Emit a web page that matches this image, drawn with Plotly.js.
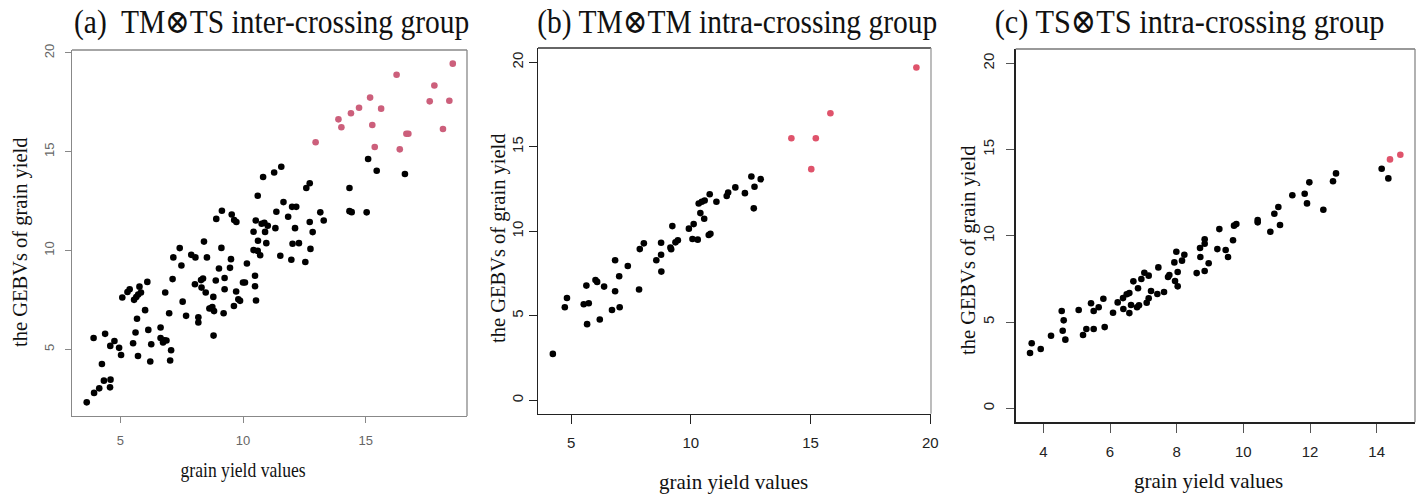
<!DOCTYPE html>
<html>
<head>
<meta charset="utf-8">
<script src="https://cdn.plot.ly/plotly-3.0.1.min.js"></script>
<style>html,body{margin:0;padding:0;background:#fff;}#chart{width:1426px;height:498px;}</style>
</head>
<body>
<div id="chart"></div>
<script>
// ---------- data ----------
const titles = ["(a)  TM\u2297TS inter-crossing group", "(b) TM\u2297TM intra-crossing group", "(c) TS\u2297TS intra-crossing group"];
const xTitle = "grain yield values";
const yTitle = "the GEBVs of grain yield";

// (a) TM x TS inter-crossing group
const aBlackX = [15.10,15.45,16.60,14.34,14.34,14.43,15.04,11.56,11.27,10.82,12.72,12.58,11.65,12.00,12.17,11.36,11.84,13.15,13.29,12.72,10.90,11.32,12.12,12.84,10.61,10.95,12.02,12.28,12.75,10.70,11.52,11.97,12.54,10.60,9.14,8.91,9.54,9.64,9.73,10.52,10.76,10.87,11.01,10.43,8.41,7.42,7.16,7.89,8.06,8.53,9.12,9.51,7.49,9.02,9.47,10.16,10.49,9.25,8.89,8.29,8.37,8.04,7.13,6.10,5.78,5.38,10.00,10.08,10.49,8.31,10.43,10.60,5.08,5.29,5.56,5.65,5.73,5.84,6.83,7.54,6.01,5.68,6.99,7.68,8.18,8.18,8.48,8.79,9.25,9.72,8.63,8.70,8.75,8.82,9.21,9.63,9.81,9.88,10.53,8.80,3.91,4.38,4.76,4.59,4.95,5.03,5.52,5.62,6.14,6.64,6.64,6.74,6.80,6.88,6.26,5.72,6.22,7.07,7.03,4.25,4.33,4.60,4.58,4.14,3.93,3.63];
const aBlackY = [14.63,14.04,13.87,13.16,11.99,11.94,11.93,14.24,13.95,13.72,13.40,13.16,12.45,12.21,12.21,11.96,11.71,11.93,11.52,11.44,10.94,11.13,11.13,10.93,10.49,10.37,10.34,10.37,10.08,9.76,9.73,9.53,9.42,12.77,12.01,11.60,11.82,11.54,11.44,11.52,11.35,11.40,11.25,10.95,10.45,10.12,9.65,9.78,9.65,9.65,10.13,9.56,9.24,9.09,9.12,9.34,8.72,8.61,8.48,8.50,8.58,8.29,8.55,8.41,8.17,8.04,8.38,8.38,8.19,8.12,10.02,9.98,7.62,7.90,7.50,7.64,7.77,7.87,7.87,7.41,6.98,6.54,6.82,6.69,6.62,6.35,7.87,7.65,8.04,7.92,7.06,7.08,7.14,6.93,6.82,7.19,7.53,7.45,7.47,5.69,5.57,5.78,5.42,5.17,5.07,4.71,5.30,5.85,5.98,6.10,5.57,5.34,5.45,5.44,5.25,4.66,4.38,4.95,4.43,4.25,3.41,3.46,3.07,3.02,2.79,2.31];
const aRedX = [12.96,13.89,14.01,14.40,14.73,15.18,15.27,15.63,15.37,16.26,16.39,16.66,16.74,17.61,17.80,18.15,18.41,18.55];
const aRedY = [15.48,16.64,16.24,16.95,17.23,17.74,16.35,17.18,15.24,18.90,15.12,15.91,15.91,17.55,18.35,16.15,17.58,19.46];

// (b) TM x TM intra-crossing group
const bBlackX = [12.53,12.92,12.66,12.26,11.86,11.56,11.50,12.63,11.07,10.79,10.58,10.46,10.33,10.40,10.56,10.12,9.92,9.23,10.07,10.29,10.75,10.82,9.46,9.36,8.76,9.15,9.18,8.04,7.87,8.76,8.56,6.84,8.77,7.37,7.01,6.84,7.84,6.02,6.09,6.38,5.64,4.83,4.74,5.53,5.74,6.71,7.03,5.67,6.20,4.24];
const bBlackY = [13.25,13.09,12.64,12.26,12.60,12.30,12.09,11.36,11.75,12.20,11.83,11.75,11.65,11.08,10.75,10.43,10.16,10.31,9.55,9.51,9.78,9.86,9.47,9.35,9.33,9.04,8.94,9.29,8.95,8.62,8.29,8.29,7.62,7.95,7.34,6.46,6.56,7.12,7.01,6.73,6.79,6.06,5.51,5.69,5.75,5.35,5.51,4.51,4.78,2.75];
const bRedX = [19.42,15.83,14.20,15.22,15.03];
const bRedY = [19.70,16.99,15.51,15.51,13.68];

// (c) TS x TS intra-crossing group
const cBlackX = [14.15,14.35,12.78,12.69,12.40,11.98,11.84,11.91,11.47,11.05,10.93,11.10,10.81,10.43,10.43,9.79,9.72,9.28,9.69,8.84,8.84,8.70,9.22,9.47,7.99,8.23,8.71,9.54,8.16,7.93,8.96,8.84,8.60,8.03,7.95,8.03,7.78,7.74,7.45,7.62,7.42,7.03,7.16,6.94,6.70,6.84,7.23,7.16,7.10,6.58,6.50,6.39,6.23,6.63,6.40,6.58,6.87,6.81,6.09,5.80,5.66,5.43,5.51,5.06,5.84,5.51,5.29,5.19,4.55,4.61,4.58,4.66,4.23,3.92,3.65,3.60];
const cBlackY = [13.89,13.33,13.62,13.16,11.51,13.10,12.44,11.88,12.35,11.67,11.28,10.63,10.24,10.92,10.78,10.68,10.59,10.39,9.74,9.80,9.54,9.29,9.23,9.18,9.08,8.90,8.77,8.77,8.56,8.46,8.41,7.96,7.84,7.90,7.38,7.07,7.73,7.61,8.17,6.74,6.63,7.86,7.69,7.50,7.36,6.96,6.80,6.38,6.12,6.68,6.61,6.39,6.14,5.99,5.76,5.52,5.97,5.86,5.54,6.35,5.86,6.09,5.64,5.70,4.71,4.60,4.60,4.25,5.64,5.10,4.50,3.98,4.21,3.44,3.77,3.21];
const cRedX = [14.40,14.71];
const cRedY = [14.43,14.70];

const aXTicks = [5,10,15], aYTicks = [5,10,15,20];
const bXTicks = [5,10,15,20], bYTicks = [0,5,10,15,20];
const cXTicks = [4,6,8,10,12,14], cYTicks = [0,5,10,15,20];

// ---------- drawing ----------
const W = 1426, H = 498;
const px = v => v / W, py = v => (H - v) / H;
const MS = 6.6;
function pts(x, y, color, xa, ya) {
  return {x: x, y: y, xaxis: xa, yaxis: ya, type: 'scatter', mode: 'markers',
          marker: {color: color, size: MS, line: {width: 0}}, hoverinfo: 'x+y', showlegend: false};
}
const data = [
  pts(aBlackX, aBlackY, '#000000', 'x', 'y'),
  pts(aRedX, aRedY, '#cc5f7b', 'x', 'y'),
  pts(bBlackX, bBlackY, '#000000', 'x2', 'y2'),
  pts(bRedX, bRedY, '#DF536B', 'x2', 'y2'),
  pts(cBlackX, cBlackY, '#000000', 'x3', 'y3'),
  pts(cRedX, cRedY, '#DF536B', 'x3', 'y3')
];

function axis(dom, rng, ticks, o) {
  return Object.assign({
    domain: dom, range: rng, tickmode: 'array', tickvals: ticks, ticktext: ticks.map(String),
    showgrid: false, zeroline: false, showline: true, mirror: false, linewidth: 1.3,
    ticks: 'outside', fixedrange: true
  }, o);
}
const tickFontA = {family: 'Liberation Sans, Arial, sans-serif', size: 13, color: '#666'};
const tickFontB = {family: 'Liberation Sans, Arial, sans-serif', size: 15, color: '#222'};

const layout = {
  width: W, height: H, margin: {l: 0, r: 0, t: 0, b: 0},
  paper_bgcolor: '#fff', plot_bgcolor: '#fff', showlegend: false,
  xaxis: axis([px(72), px(467)], [3.03, 19.13], aXTicks,
    {anchor: 'y', linecolor: '#888', tickcolor: '#888', ticklen: 6, tickfont: tickFontA, ticklabelstandoff: 6}),
  yaxis: axis([py(416), py(50)], [1.62, 20.15], aYTicks,
    {anchor: 'x', linecolor: '#888', tickcolor: '#888', ticklen: 6, tickfont: tickFontA, tickangle: -90, ticklabelstandoff: 6}),
  xaxis2: axis([px(538), px(931)], [3.62, 20.03], bXTicks,
    {anchor: 'y2', linecolor: '#222', tickcolor: '#222', ticklen: 9, tickfont: tickFontB, ticklabelstandoff: 6}),
  yaxis2: axis([py(413.7), py(48)], [-0.79, 20.85], bYTicks,
    {anchor: 'x2', linecolor: '#222', tickcolor: '#222', ticklen: 8, tickfont: tickFontB, tickangle: -90, ticklabelstandoff: 0}),
  xaxis3: axis([px(1015.7), px(1415)], [3.17, 15.15], cXTicks,
    {anchor: 'y3', linecolor: '#222', tickcolor: '#555', ticklen: 9, tickfont: tickFontB, ticklabelstandoff: 6}),
  yaxis3: axis([py(422.3), py(49)], [-0.81, 20.83], cYTicks,
    {anchor: 'x3', linecolor: '#222', tickcolor: '#555', ticklen: 8, tickfont: tickFontB, tickangle: -90, ticklabelstandoff: 6}),
  shapes: [],
  annotations: []
};

// box edges (top and right) with their own shades
function edge(xr, x0, y0, x1, y1, color) {
  return {type: 'line', xref: xr + ' domain', yref: xr.replace('x', 'y') + ' domain',
          x0: x0, y0: y0, x1: x1, y1: y1, line: {color: color, width: 1.3}, layer: 'above'};
}
layout.shapes.push(edge('x', 0, 1, 1, 1, '#888'), edge('x', 1, 0, 1, 1, '#888'));
layout.shapes.push(edge('x2', 0, 1, 1, 1, '#333'), edge('x2', 1, 0, 1, 1, '#999'));
layout.shapes.push(edge('x3', 0, 1, 1, 1, '#777'), edge('x3', 1, 0, 1, 1, '#888'));

const serif = 'Liberation Serif, Times New Roman, DejaVu Serif, serif';
function ann(text, x, y, size, angle) {
  return {text: text, xref: 'paper', yref: 'paper', x: px(x), y: py(y), xanchor: 'center', yanchor: 'middle',
          showarrow: false, textangle: angle || 0, font: {family: serif, size: size, color: '#111'}};
}
layout.annotations.push(ann(titles[0], 271, 22, 33.5));
layout.annotations.push(ann(titles[1], 737, 22, 33.5));
layout.annotations.push(ann(titles[2], 1189, 22, 34.5));
layout.annotations.push(ann(xTitle, 243, 470, 20));
layout.annotations.push(ann(xTitle, 733, 482, 21));
layout.annotations.push(ann(xTitle, 1208, 481, 21));
layout.annotations.push(ann(yTitle, 20, 242, 20.5, -90));
layout.annotations.push(ann(yTitle, 499, 238, 20.5, -90));
layout.annotations.push(ann(yTitle, 968, 250, 20.5, -90));

// the reference text is horizontally condensed (per annotation)
const squeeze = [0.88, 0.88, 0.88, 0.88, 1.0, 1.0];
Plotly.newPlot('chart', data, layout, {displayModeBar: false, staticPlot: true}).then(gd => {
  gd.querySelectorAll('g.annotation').forEach(g => {
    const i = +g.getAttribute('data-index');
    if (!(i < squeeze.length) || squeeze[i] === 1) return;
    const t = g.querySelector('text');
    if (!t) return;
    const b = t.getBBox();
    const cx = b.x + b.width / 2;
    t.setAttribute('transform', `translate(${cx} 0) scale(${squeeze[i]} 1) translate(${-cx} 0)`);
  });
});
</script>
</body>
</html>
